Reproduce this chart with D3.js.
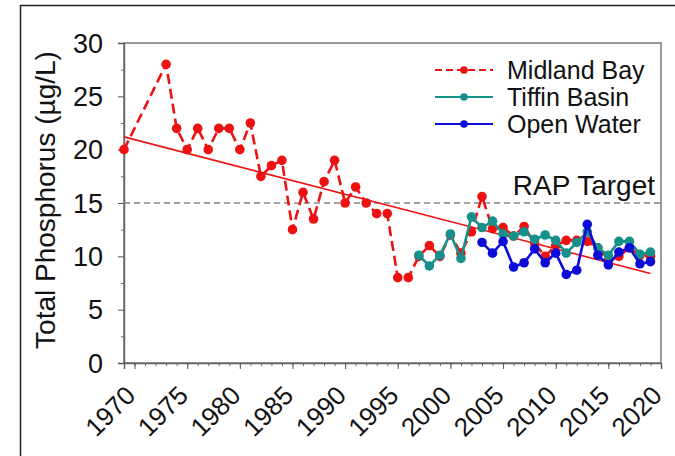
<!DOCTYPE html>
<html>
<head>
<meta charset="utf-8">
<script src="https://cdn.jsdelivr.net/npm/d3@7"></script>
<style>
  body { margin: 0; background: #fff; }
  text { font-family: Arial, "Liberation Sans", sans-serif; fill: #111; }
</style>
</head>
<body>
<div id="chart"></div>
<script>
// values
var midYears = [1969, 1973, 1974, 1975, 1976, 1977, 1978, 1979, 1980, 1981, 1982, 1983, 1984,
  1985, 1986, 1987, 1988, 1989, 1990, 1991, 1992, 1993, 1994, 1995, 1996, 1997, 1998, 1999,
  2000, 2001, 2002, 2003, 2004, 2005, 2006, 2007, 2008, 2009, 2010, 2011, 2012, 2013, 2014,
  2015, 2016, 2017, 2018, 2019];
var midValues = [20, 28, 22, 20, 22, 20, 22, 22, 20, 22.5, 17.5, 18.5, 19,
  12.5, 16, 13.5, 17, 19, 15, 16.5, 15, 14, 14, 8, 8, 10, 11, 10,
  12, 10.3, 12.3, 15.6, 12.6, 12.7, 11.9, 12.8, 11.2, 10, 11, 11.5, 11.5, 11.4, 10.8,
  9.6, 10, 10.8, 10.1, 10];

var tiffinYears = [1997, 1998, 1999, 2000, 2001, 2002, 2003, 2004, 2005, 2006, 2007, 2008,
  2009, 2010, 2011, 2012, 2013, 2014, 2015, 2016, 2017, 2018, 2019];
var tiffinValues = [10.1, 9.1, 10.1, 12.1, 9.8, 13.7, 12.7, 13.3, 12.1, 11.9, 12.3, 11.6,
  12.0, 11.5, 10.3, 11.3, 12.3, 10.8, 10.1, 11.4, 11.4, 10.2, 10.4];

var openYears = [2003, 2004, 2005, 2006, 2007, 2008, 2009, 2010, 2011, 2012, 2013, 2014,
  2015, 2016, 2017, 2018, 2019];
var openValues = [11.3, 10.3, 11.4, 9.0, 9.4, 10.7, 9.4, 10.3, 8.3, 8.7, 13.0, 10.1,
  9.2, 10.4, 10.8, 9.3, 9.5];

var trendYears = [1969, 2019];
var trendValues = [21.2, 8.4];

var targetValue = 15;
var xTicks = [1970, 1975, 1980, 1985, 1990, 1995, 2000, 2005, 2010, 2015, 2020];
var yTicks = [0, 5, 10, 15, 20, 25, 30];

var width = 675, height = 456;
// plot box edges (window.top is reserved, so own names)
var plotL = 124, plotR = 661, plotT = 43, plotB = 363;

var svg = d3.select("#chart").append("svg")
    .attr("width", width)
    .attr("height", height);

// outer frame (only top and left show in the picture)
svg.append("path")
    .attr("d", "M20.5,460 V5.5 H680")
    .attr("fill", "none")
    .attr("stroke", "#222")
    .attr("stroke-width", 1.5);

var x = d3.scaleLinear().domain([1969, 2020]).range([plotL, plotR]);
var y = d3.scaleLinear().domain([0, 30]).range([plotB, plotT]);

// plot frame
svg.append("rect")
    .attr("x", plotL).attr("y", plotT)
    .attr("width", plotR - plotL).attr("height", plotB - plotT)
    .attr("fill", "none")
    .attr("stroke", "#777")
    .attr("stroke-width", 1.5);

// x axis with yearly minor ticks
var xMinor = d3.range(1970, 2021);
svg.append("g")
    .attr("transform", `translate(0, ${plotB})`)
    .call(d3.axisBottom(x).tickValues(xMinor).tickSize(3).tickFormat(""))
    .call(g => g.select(".domain").remove())
    .selectAll("line").attr("stroke", "#666");

var xAxis = svg.append("g")
    .attr("transform", `translate(0, ${plotB})`)
    .call(d3.axisBottom(x).tickValues(xTicks).tickSize(6).tickFormat(d3.format("d")));
xAxis.select(".domain").attr("stroke", "#666").attr("stroke-width", 1.5);
xAxis.selectAll("line").attr("stroke", "#555");
xAxis.selectAll("text")
    .style("font-size", "26px")
    .attr("fill", "#111")
    .attr("text-anchor", "end")
    .attr("y", 0)
    .attr("dy", 0)
    .attr("transform", "translate(2, 34) rotate(-45)");

// y axis with minor ticks at 2.5
svg.append("g")
    .attr("transform", `translate(${plotL}, 0)`)
    .call(d3.axisLeft(y).tickValues(d3.range(2.5, 30, 5)).tickSize(3).tickFormat(""))
    .call(g => g.select(".domain").remove())
    .selectAll("line").attr("stroke", "#666");

var yAxis = svg.append("g")
    .attr("transform", `translate(${plotL}, 0)`)
    .call(d3.axisLeft(y).tickValues(yTicks).tickSize(6));
yAxis.select(".domain").attr("stroke", "#666").attr("stroke-width", 1.5);
yAxis.selectAll("line").attr("stroke", "#555");
yAxis.selectAll("text")
    .style("font-size", "27px")
    .attr("fill", "#111")
    .attr("x", -21)
    .attr("dy", "0.34em");

svg.append("text")
    .attr("transform", `translate(55, 200) rotate(-90)`)
    .attr("text-anchor", "middle")
    .style("font-size", "28px")
    .text("Total Phosphorus (µg/L)");

// RAP target line
svg.append("line")
    .attr("x1", plotL).attr("x2", plotR)
    .attr("y1", y(targetValue)).attr("y2", y(targetValue))
    .attr("stroke", "#888")
    .attr("stroke-width", 1.5)
    .attr("stroke-dasharray", "6,4");

svg.append("text")
    .attr("x", 655)
    .attr("y", y(targetValue) - 8)
    .attr("text-anchor", "end")
    .style("font-size", "28px")
    .text("RAP Target");

// trend line
svg.append("line")
    .attr("x1", x(trendYears[0])).attr("y1", y(trendValues[0]))
    .attr("x2", x(trendYears[1])).attr("y2", y(trendValues[1]))
    .attr("stroke", "#ee1111")
    .attr("stroke-width", 1.6);

var line = d3.line()
    .x(d => x(d[0]))
    .y(d => y(d[1]));

function drawSeries(years, values, color, dash) {
  var pts = years.map((yr, i) => [yr, values[i]]);
  svg.append("path")
      .datum(pts)
      .attr("d", line)
      .attr("fill", "none")
      .attr("stroke", color)
      .attr("stroke-width", 2.6)
      .attr("stroke-dasharray", dash);
  svg.append("g").selectAll("circle")
      .data(pts)
      .enter().append("circle")
      .attr("cx", d => x(d[0]))
      .attr("cy", d => y(d[1]))
      .attr("r", 4.8)
      .attr("fill", color);
}

drawSeries(midYears, midValues, "#ee1111", "10,5");
drawSeries(tiffinYears, tiffinValues, "#15908a", null);
drawSeries(openYears, openValues, "#0c0cd8", null);

// legend
var legendNames = ["Midland Bay", "Tiffin Basin", "Open Water"];
var legendColors = ["#ee1111", "#15908a", "#0c0cd8"];
var legendDash = ["7,4", null, null];

var legend = svg.append("g");
legendNames.forEach(function(name, i) {
  var ly = 70 + i * 27;
  legend.append("line")
      .attr("x1", 435).attr("x2", 493)
      .attr("y1", ly).attr("y2", ly)
      .attr("stroke", legendColors[i])
      .attr("stroke-width", 2.2)
      .attr("stroke-dasharray", legendDash[i]);
  legend.append("circle")
      .attr("cx", 464).attr("cy", ly)
      .attr("r", 3.8)
      .attr("fill", legendColors[i]);
  legend.append("text")
      .attr("x", 507).attr("y", ly + 9)
      .style("font-size", "25px")
      .text(name);
});
</script>
</body>
</html>
